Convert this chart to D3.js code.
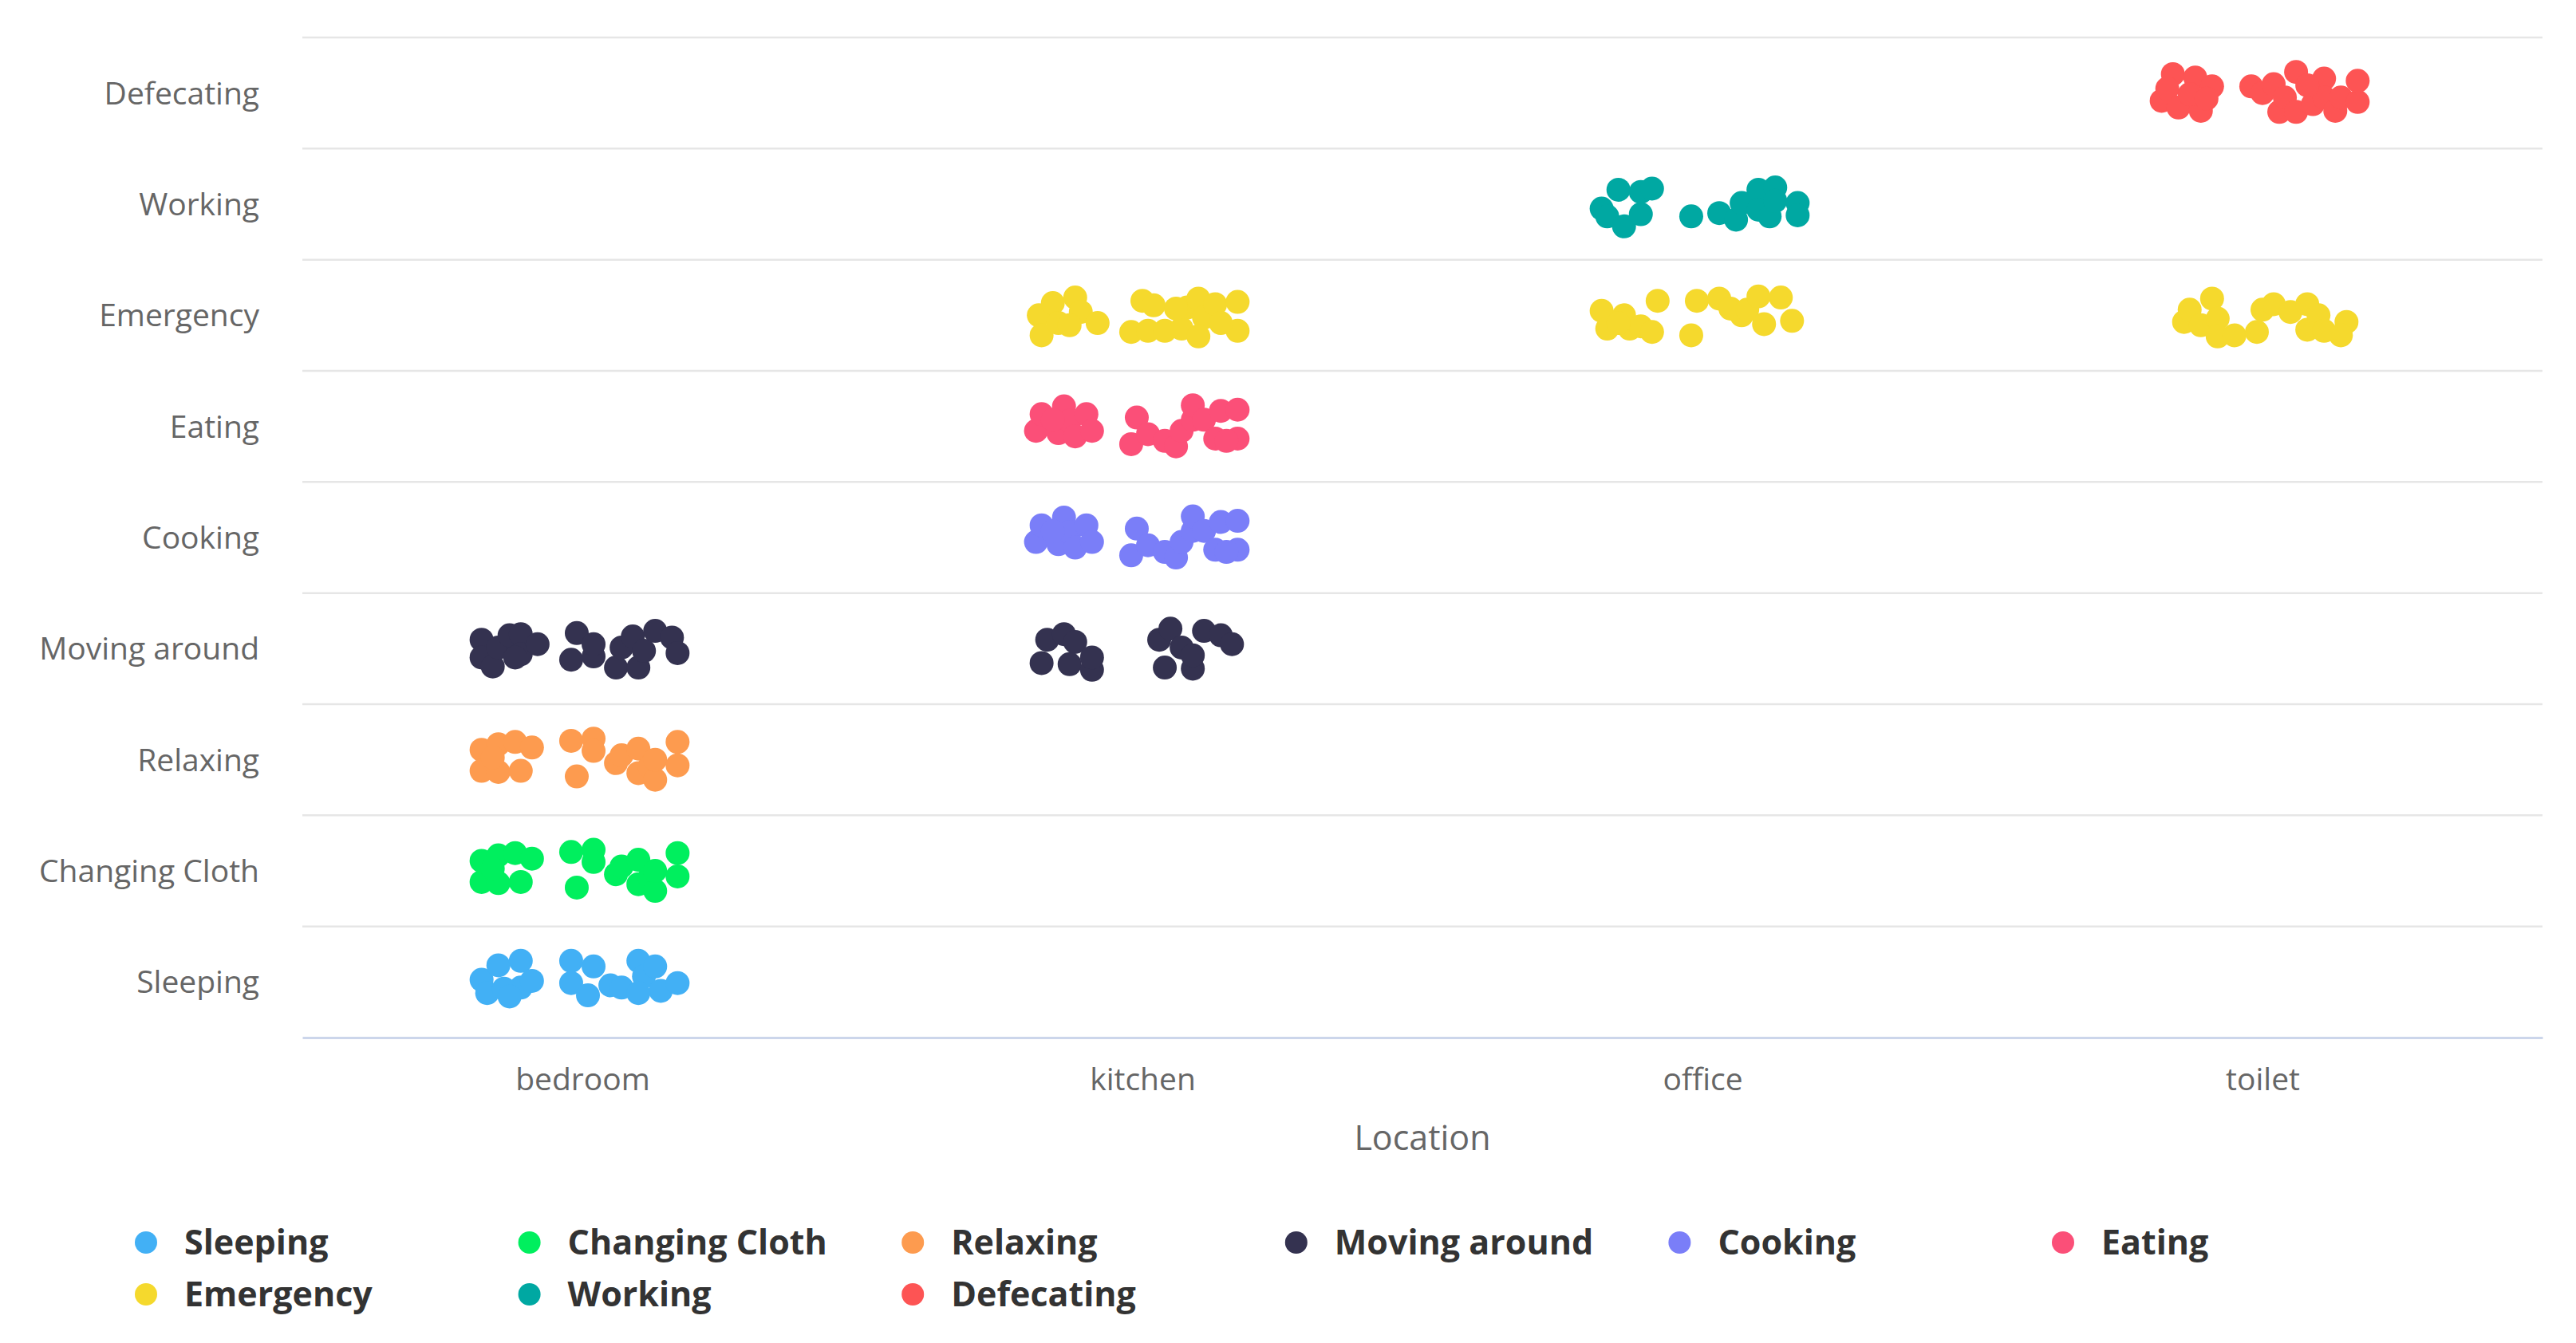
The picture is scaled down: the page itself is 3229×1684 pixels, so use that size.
<!DOCTYPE html>
<html><head><meta charset="utf-8">
<script src="https://cdn.jsdelivr.net/npm/d3@7"></script>
<style>body{margin:0;background:#fff}svg{display:block}</style>
</head><body><svg id="chart" width="3229" height="1684"></svg>
<script>
const locations = ['bedroom', 'kitchen', 'office', 'toilet'];
const activities = ['Sleeping', 'Changing Cloth', 'Relaxing', 'Moving around', 'Cooking', 'Eating', 'Emergency', 'Working', 'Defecating'];
const xTitle = 'Location';

// [location position, activity position] (jittered)
const sleeping = [[-0.18,0.02],[-0.17,-0.10],[-0.15,0.15],[-0.11,0.19],[-0.11,-0.05],[-0.09,0.01],[-0.14,-0.06],[-0.13,-0.13],
  [-0.02,0.19],[-0.02,-0.01],[0.02,0.14],[0.01,-0.12],[0.05,-0.03],[0.07,-0.05],[0.10,0.19],[0.11,0.05],[0.13,0.14],[0.14,-0.08],[0.10,-0.10],[0.17,-0.01]];
const changingCloth = [[-0.18,1.09],[-0.15,1.14],[-0.12,1.16],[-0.09,1.11],[-0.18,0.90],[-0.15,0.89],[-0.11,0.90],[-0.16,1.02],
  [-0.02,1.17],[-0.01,0.85],[0.02,1.19],[0.02,1.08],[0.06,0.97],[0.07,1.04],[0.10,1.10],[0.10,0.88],[0.12,0.94],[0.13,0.82],[0.13,1.00],[0.17,1.16],[0.17,0.95]];
const relaxing = [[-0.18,2.09],[-0.15,2.14],[-0.12,2.16],[-0.09,2.11],[-0.18,1.90],[-0.15,1.89],[-0.11,1.90],[-0.16,2.02],
  [-0.02,2.17],[-0.01,1.85],[0.02,2.19],[0.02,2.08],[0.06,1.97],[0.07,2.04],[0.10,2.10],[0.10,1.88],[0.12,1.94],[0.13,1.82],[0.13,2.00],[0.17,2.16],[0.17,1.95]];
const movingAround = [[-0.18,3.08],[-0.18,2.92],[-0.16,2.84],[-0.15,3.01],[-0.13,3.12],[-0.11,3.13],[-0.11,2.95],[-0.08,3.04],[-0.12,2.92],
  [-0.01,3.14],[-0.02,2.90],[0.02,2.93],[0.02,3.04],[0.06,2.83],[0.07,3.01],[0.09,3.11],[0.10,2.83],[0.11,2.98],[0.13,3.16],[0.16,3.10],[0.17,2.96],
  [0.83,3.08],[0.86,3.13],[0.88,3.06],[0.82,2.87],[0.87,2.86],[0.91,2.81],[0.91,2.92],
  [1.03,3.08],[1.05,3.18],[1.07,3.01],[1.04,2.83],[1.09,2.82],[1.09,2.94],[1.11,3.16],[1.14,3.12],[1.16,3.04]];
const cooking = [[0.81,3.96],[0.82,4.11],[0.85,3.94],[0.86,4.18],[0.87,4.05],[0.88,3.91],[0.90,4.11],[0.91,3.96],[0.84,4.06],
  [0.98,3.84],[0.99,4.08],[1.01,3.93],[1.04,3.87],[1.06,3.82],[1.07,3.96],[1.09,4.06],[1.09,4.19],[1.11,4.06],[1.13,3.89],[1.14,4.14],[1.17,4.15],[1.17,3.89],[1.15,3.87]];
const eating = [[0.81,4.96],[0.82,5.11],[0.85,4.94],[0.86,5.18],[0.87,5.05],[0.88,4.91],[0.90,5.11],[0.91,4.96],[0.84,5.06],
  [0.98,4.84],[0.99,5.08],[1.01,4.93],[1.04,4.87],[1.06,4.82],[1.07,4.96],[1.09,5.06],[1.09,5.19],[1.11,5.06],[1.13,4.89],[1.14,5.14],[1.17,5.15],[1.17,4.89],[1.15,4.87]];
const emergency = [[0.815,6.00],[0.82,5.82],[0.84,6.11],[0.85,5.93],[0.88,6.16],[0.89,6.03],[0.92,5.93],[0.87,5.91],
  [1.00,6.13],[0.98,5.85],[1.02,6.09],[1.01,5.86],[1.04,5.86],[1.07,5.88],[1.08,6.07],[1.10,6.15],[1.11,5.98],[1.10,5.81],[1.13,6.10],[1.17,6.12],[1.17,5.86],[1.14,5.93],[1.06,6.06],
  [1.82,6.04],[1.83,5.88],[1.86,6.00],[1.87,5.88],[1.89,5.90],[1.92,6.13],[1.91,5.85],[1.85,5.93],
  [1.98,5.82],[1.99,6.13],[2.03,6.15],[2.05,6.06],[2.07,6.00],[2.08,6.05],[2.10,6.17],[2.11,5.92],[2.14,6.16],[2.16,5.95],
  [2.86,5.94],[2.87,6.05],[2.89,5.91],[2.91,6.15],[2.92,5.97],[2.92,5.81],[2.95,5.82],
  [2.99,5.85],[3.00,6.05],[3.02,6.10],[3.05,6.03],[3.08,6.10],[3.08,5.87],[3.10,6.00],[3.11,5.86],[3.15,5.94],[3.14,5.82]];
const working = [[1.82,6.96],[1.83,6.89],[1.85,7.13],[1.86,6.80],[1.89,6.91],[1.89,7.11],[1.91,7.14],
  [1.98,6.89],[2.03,6.92],[2.06,6.86],[2.07,7.01],[2.10,7.13],[2.10,6.95],[2.12,6.89],[2.13,7.15],[2.13,7.03],[2.17,7.01],[2.17,6.90]];
const defecating = [[2.82,7.93],[2.84,8.17],[2.83,8.04],[2.85,7.87],[2.88,8.14],[2.89,7.84],[2.91,8.06],[2.87,7.99],[2.90,7.95],
  [2.98,8.06],[3.00,8.00],[3.02,8.08],[3.03,7.83],[3.04,7.96],[3.06,8.19],[3.06,7.83],[3.09,7.90],[3.11,8.13],[3.11,7.96],[3.13,7.84],[3.14,7.96],[3.17,7.92],[3.17,8.11],[3.08,8.07]];

const seriesNames = ['Sleeping', 'Changing Cloth', 'Relaxing', 'Moving around', 'Cooking', 'Eating', 'Emergency', 'Working', 'Defecating'];
const seriesColors = ['#42b0f5', '#00ef5e', '#fd9b4f', '#343250', '#7a7ef8', '#fb4f78', '#f5d92d', '#00a8a2', '#fd5454'];
const seriesData = [sleeping, changingCloth, relaxing, movingAround, cooking, eating, emergency, working, defecating];

const svg = d3.select('#chart');
const m = {left: 379, right: 3187, top: 47, bottom: 1301};
const font = "'Open Sans', 'Noto Sans', sans-serif";

const x = d3.scaleLinear().domain([-0.5, locations.length - 0.5]).range([m.left, m.right]);
const y = d3.scaleLinear().domain([-0.5, activities.length - 0.5]).range([m.bottom, m.top]);

// gridlines
const gridVals = d3.range(activities.length).map(i => i + 0.5);
svg.append('g').selectAll('line').data(gridVals).join('line')
  .attr('x1', m.left).attr('x2', m.right)
  .attr('y1', d => y(d)).attr('y2', d => y(d))
  .attr('stroke', '#e6e6e6').attr('stroke-width', 2.5);

// y axis labels
const yAxis = d3.axisLeft(y).tickValues(d3.range(activities.length)).tickFormat(i => activities[i]).tickSize(0).tickPadding(54);
const gy = svg.append('g').attr('transform', `translate(${m.left},0)`).call(yAxis);
gy.select('.domain').remove();
gy.selectAll('text').attr('font-family', font).attr('font-size', 39).attr('fill', '#666666').attr('dy', '0.35em');

// x axis
const xAxis = d3.axisBottom(x).tickValues(d3.range(locations.length)).tickFormat(i => locations[i]).tickSize(0).tickPadding(38);
const gx = svg.append('g').attr('transform', `translate(0,${m.bottom})`).call(xAxis);
gx.select('.domain').attr('stroke', '#ccd6eb').attr('stroke-width', 3);
gx.selectAll('text').attr('font-family', font).attr('font-size', 39).attr('fill', '#666666');

svg.append('text').attr('x', (m.left + m.right) / 2).attr('y', 1442)
  .attr('text-anchor', 'middle').attr('font-family', font).attr('font-size', 43)
  .attr('fill', '#666666').text(xTitle);

// points
seriesData.forEach((data, si) => {
  svg.append('g').selectAll('circle').data(data).join('circle')
    .attr('cx', d => x(d[0])).attr('cy', d => y(d[1])).attr('r', 15)
    .attr('fill', seriesColors[si]);
});

// legend
const legend = svg.append('g');
seriesNames.forEach((name, i) => {
  const col = i % 6, row = Math.floor(i / 6);
  const cx = 183 + col * 480.6, cy = 1558 + row * 65;
  legend.append('circle').attr('cx', cx).attr('cy', cy).attr('r', 14).attr('fill', seriesColors[i]);
  legend.append('text').attr('x', cx + 48).attr('y', cy + 15)
    .attr('font-family', font).attr('font-weight', 'bold').attr('font-size', 43)
    .attr('fill', '#333333').text(name);
});
</script></body></html>
